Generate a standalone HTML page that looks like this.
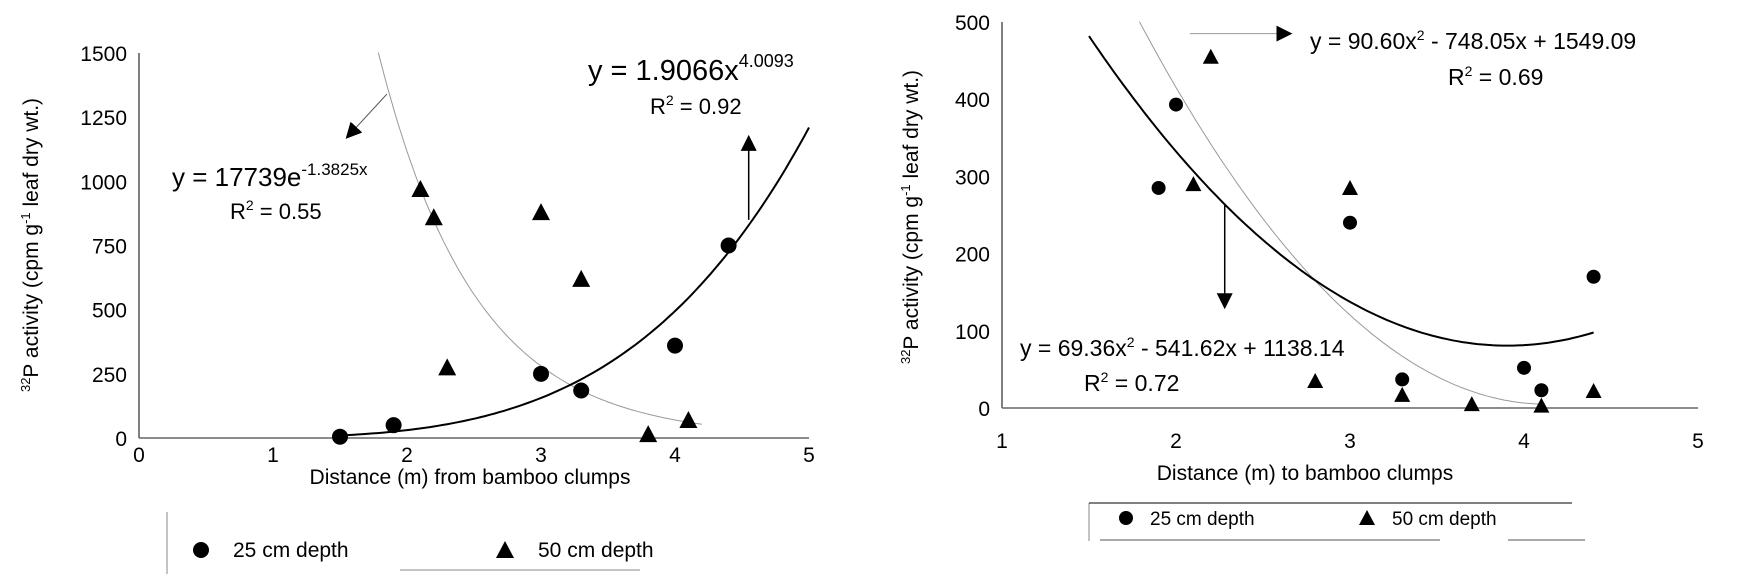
<!DOCTYPE html>
<html><head><meta charset="utf-8"><style>
body{margin:0;background:#fff;}
svg{display:block;font-family:"Liberation Sans",Arial,sans-serif;}
</style></head><body>
<svg id="c" width="1740" height="578" viewBox="0 0 1740 578" xmlns="http://www.w3.org/2000/svg">
<defs>
<marker id="ahb" viewBox="0 0 10 10" refX="9" refY="5" markerWidth="16" markerHeight="16" markerUnits="userSpaceOnUse" orient="auto"><path d="M0,0 L10,5 L0,10z" fill="#000"/></marker>
</defs>
<g id="L"></g>
<g id="R"></g>
</svg>
<script>
// Left chart data
const leftXTicks=[0,1,2,3,4,5];
const leftYTicks=[0,250,500,750,1000,1250,1500];
const left25X=[1.5,1.9,3,3.3,4,4.4];
const left25Y=[5,50,250,185,360,750];
const left50X=[2.1,2.2,2.3,3,3.3,3.8,4.1];
const left50Y=[970,860,275,880,620,15,70];
// Right chart data
const rightXTicks=[1,2,3,4,5];
const rightYTicks=[0,100,200,300,400,500];
const right25X=[1.9,2,3,3.3,4,4.1,4.4];
const right25Y=[285,393,240,37,52,23,170];
const right50X=[2.2,2.1,3,2.8,3.3,3.7,4.1,4.4];
const right50Y=[455,290,285,35,17,5,3,22];

const NS="http://www.w3.org/2000/svg";
function el(p,t,a,txt){const e=document.createElementNS(NS,t);for(const k in a)e.setAttribute(k,a[k]);if(txt!==undefined)e.textContent=txt;p.appendChild(e);return e;}

function panel(g,cfg){
  const sx=v=>cfg.x0+(v-cfg.xmin)/(cfg.xmax-cfg.xmin)*(cfg.x1-cfg.x0);
  const sy=v=>cfg.y0-(v-cfg.ymin)/(cfg.ymax-cfg.ymin)*(cfg.y0-cfg.y1);
  let e=el(g,'line',{x1:cfg.x0,y1:cfg.y0,x2:cfg.x0,y2:cfg.y1,stroke:'#555','stroke-width':1.5});
  
  e=el(g,'line',{x1:cfg.x0,y1:cfg.y0,x2:cfg.x1,y2:cfg.y0,stroke:'#666','stroke-width':1.5});
  
  cfg.xt.forEach(v=>{
    e=el(g,'text',{x:sx(v),y:cfg.y0+cfg.xtOff,'font-size':cfg.fs,'text-anchor':'middle'},String(v));
    
  });
  cfg.yt.forEach(v=>{
    e=el(g,'text',{x:cfg.x0-12,y:sy(v)+8,'font-size':cfg.fs,'text-anchor':'end'},String(v));
    
  });
  cfg.curves.forEach(c=>{
    let d='';for(let i=0;i<=100;i++){const x=c.a+(c.b-c.a)*i/100;d+=(i?'L':'M')+sx(x).toFixed(1)+','+sy(c.f(x)).toFixed(1);}
    e=el(g,'path',{d:d,fill:'none',stroke:c.col,'stroke-width':c.w});
    
  });
  const r=cfg.mr;
  cfg.cx.forEach((x,i)=>{
    e=el(g,'circle',{cx:sx(x),cy:sy(cfg.cy[i]),r:r,fill:'#000'});
    
  });
  cfg.tx.forEach((x,i)=>{
    const px=sx(x),py=sy(cfg.ty[i]);
    e=el(g,'path',{d:`M${px},${py-r-1}L${px+r+1},${py+r}L${px-r-1},${py+r}Z`,fill:'#000'});
    
  });
  return {sx,sy};
}

const L=document.getElementById('L');
const lp=panel(L,{x0:139,x1:809,y0:438,y1:53,xmin:0,xmax:5,ymin:0,ymax:1500,xt:leftXTicks,yt:leftYTicks,fs:21,xtOff:24,mr:8,
 cx:left25X,cy:left25Y,tx:left50X,ty:left50Y,
 curves:[{a:1.786,b:4.2,f:x=>17739*Math.exp(-1.3825*x),col:'#999',w:1,name:'exp-trendline-50cm'},
         {a:1.5,b:5,f:x=>1.9066*Math.pow(x,4.0093),col:'#000',w:2,name:'power-trendline-25cm'}]});
let e;
e=el(L,'line',{x1:lp.sx(1.85),y1:lp.sy(1340),x2:lp.sx(1.55),y2:lp.sy(1170),stroke:'#555','stroke-width':1,'marker-end':'url(#ahb)'});

e=el(L,'line',{x1:lp.sx(4.55),y1:lp.sy(850),x2:lp.sx(4.55),y2:lp.sy(1175),stroke:'#000','stroke-width':1.5,'marker-end':'url(#ahb)'});


const R=document.getElementById('R');
const rp=panel(R,{x0:1002,x1:1698,y0:408,y1:22,xmin:1,xmax:5,ymin:0,ymax:500,xt:rightXTicks,yt:rightYTicks,fs:21,xtOff:40,mr:7,
 cx:right25X,cy:right25Y,tx:right50X,ty:right50Y,
 curves:[{a:1.79,b:4.12,f:x=>90.60*x*x-748.05*x+1549.09,col:'#999',w:1,name:'quad-trendline-50cm'},
         {a:1.5,b:4.4,f:x=>69.36*x*x-541.62*x+1138.14,col:'#000',w:2,name:'quad-trendline-25cm'}]});
e=el(R,'line',{x1:rp.sx(2.08),y1:rp.sy(485),x2:rp.sx(2.66),y2:rp.sy(485),stroke:'#999','stroke-width':1,'marker-end':'url(#ahb)'});

e=el(R,'line',{x1:rp.sx(2.28),y1:rp.sy(265),x2:rp.sx(2.28),y2:rp.sy(130),stroke:'#000','stroke-width':1.5,'marker-end':'url(#ahb)'});

</script>
<svg style="position:absolute;left:0;top:0" width="1740" height="578">
<g font-family="Liberation Sans, Arial, sans-serif" fill="#000">
<text transform="translate(38,245) rotate(-90)" text-anchor="middle" font-size="21"><tspan font-size="13" dy="-8">32</tspan><tspan dy="8">P activity (cpm g</tspan><tspan font-size="13" dy="-8">-1</tspan><tspan dy="8"> leaf dry wt.)</tspan></text>
<text x="470" y="484" text-anchor="middle" font-size="21">Distance (m) from bamboo clumps</text>
<text x="172" y="186" font-size="26">y = 17739e<tspan font-size="17" dy="-11">-1.3825x</tspan></text>
<text x="230" y="219" font-size="22">R<tspan font-size="14" dy="-9">2</tspan><tspan dy="9"> = 0.55</tspan></text>
<text x="588" y="80" font-size="29">y = 1.9066x<tspan font-size="18" dy="-13">4.0093</tspan></text>
<text x="650" y="114" font-size="22">R<tspan font-size="14" dy="-9">2</tspan><tspan dy="9"> = 0.92</tspan></text>
<g>
<line x1="167" y1="512" x2="167" y2="574" stroke="#888" stroke-width="1"/>
<line x1="400" y1="570" x2="640" y2="570" stroke="#888" stroke-width="1"/>
<circle cx="201" cy="550" r="8" fill="#000"/>
<text x="233" y="557" font-size="21">25 cm depth</text>
<path d="M505,541 L514,558 L496,558Z" fill="#000"/>
<text x="538" y="557" font-size="21">50 cm depth</text>
</g>
<text transform="translate(918,217) rotate(-90)" text-anchor="middle" font-size="21"><tspan font-size="13" dy="-8">32</tspan><tspan dy="8">P activity (cpm g</tspan><tspan font-size="13" dy="-8">-1</tspan><tspan dy="8"> leaf dry wt.)</tspan></text>
<text x="1305" y="480" text-anchor="middle" font-size="21">Distance (m) to bamboo clumps</text>
<text x="1310" y="49" font-size="23">y = 90.60x<tspan font-size="14" dy="-9">2</tspan><tspan dy="9"> - 748.05x + 1549.09</tspan></text>
<text x="1448" y="85" font-size="23">R<tspan font-size="14" dy="-9">2</tspan><tspan dy="9"> = 0.69</tspan></text>
<text x="1020" y="356" font-size="23">y = 69.36x<tspan font-size="14" dy="-9">2</tspan><tspan dy="9"> - 541.62x + 1138.14</tspan></text>
<text x="1084" y="391" font-size="23">R<tspan font-size="14" dy="-9">2</tspan><tspan dy="9"> = 0.72</tspan></text>
<g>
<line x1="1089" y1="503" x2="1089" y2="541" stroke="#888" stroke-width="1"/>
<line x1="1089" y1="503" x2="1572" y2="503" stroke="#000" stroke-width="1"/>
<line x1="1100" y1="540" x2="1440" y2="540" stroke="#555" stroke-width="1"/>
<line x1="1508" y1="540" x2="1585" y2="540" stroke="#555" stroke-width="1"/>
<circle cx="1126" cy="518" r="7" fill="#000"/>
<text x="1150" y="525" font-size="19">25 cm depth</text>
<path d="M1367,510 L1375,525 L1359,525Z" fill="#000"/>
<text x="1392" y="525" font-size="19">50 cm depth</text>
</g>
</g>
</svg>
</body></html>
